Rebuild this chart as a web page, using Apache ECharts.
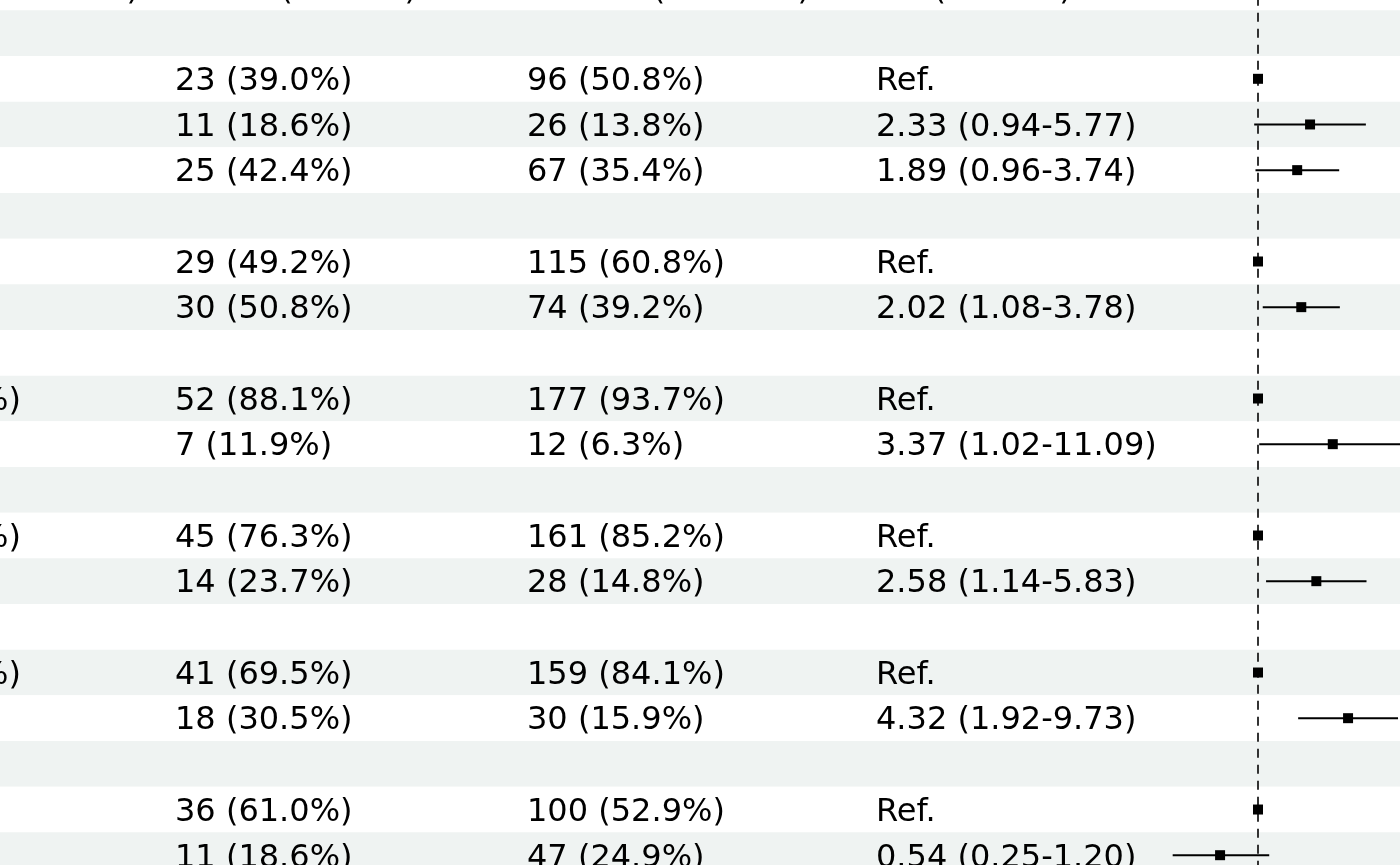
<!DOCTYPE html>
<html><head><meta charset="utf-8">
<script src="https://cdn.jsdelivr.net/npm/echarts/dist/echarts.min.js"></script>
<style>html,body{margin:0;padding:0;background:#fff}#c{width:1400px;height:865px}</style>
</head><body><div id="c"></div>
<script>
// ---- data ----
const headers = ['Subgroup (N = 248)', 'Cases (N = 59)', 'Control (N = 189)', 'OR (95% CI)'];
const groupLabels = ['', '', '', '', '', '', '', '', 'Low (< 50%)', '', '', 'Low (< 50%)', '', '', 'Low (< 50%)', '', '', '', ''];
const casesText = ['', '23 (39.0%)', '11 (18.6%)', '25 (42.4%)', '', '29 (49.2%)', '30 (50.8%)', '', '52 (88.1%)', '7 (11.9%)', '', '45 (76.3%)', '14 (23.7%)', '', '41 (69.5%)', '18 (30.5%)', '', '36 (61.0%)', '11 (18.6%)'];
const controlsText = ['', '96 (50.8%)', '26 (13.8%)', '67 (35.4%)', '', '115 (60.8%)', '74 (39.2%)', '', '177 (93.7%)', '12 (6.3%)', '', '161 (85.2%)', '28 (14.8%)', '', '159 (84.1%)', '30 (15.9%)', '', '100 (52.9%)', '47 (24.9%)'];
const orText = ['', 'Ref.', '2.33 (0.94-5.77)', '1.89 (0.96-3.74)', '', 'Ref.', '2.02 (1.08-3.78)', '', 'Ref.', '3.37 (1.02-11.09)', '', 'Ref.', '2.58 (1.14-5.83)', '', 'Ref.', '4.32 (1.92-9.73)', '', 'Ref.', '0.54 (0.25-1.20)'];
const orValue = [null, 1, 2.33, 1.89, null, 1, 2.02, null, 1, 3.37, null, 1, 2.58, null, 1, 4.32, null, 1, 0.54];
const ciLow  = [null, null, 0.94, 0.96, null, null, 1.08, null, null, 1.02, null, null, 1.14, null, null, 1.92, null, null, 0.25];
const ciHigh = [null, null, 5.77, 3.74, null, null, 3.78, null, null, 11.09, null, null, 5.83, null, null, 9.73, null, null, 1.20];

// ---- layout ----
const ROW_H = 45.67;
const NROWS = orText.length + 1; // header + body
const TOP = 10.3 - ROW_H;
const HEIGHT = ROW_H * NROWS;
const rowCats = ['header'].concat(orText.map((_, i) => 'r' + i));
const FONT = { fontFamily: 'DejaVu Sans', fontSize: 32, color: '#000', opacity: 1, offset: [0, 3] };

const gridDefs = [
  { left: 0, width: 1400 },      // 0 bands
  { left: 0, width: 139 },       // 1 left header
  { left: 0, width: 21 },        // 2 left body
  { left: 175, width: 300 },     // 3 cases
  { left: 527, width: 300 },     // 4 controls
  { left: 876, width: 280 },     // 5 OR text
  { left: 1258 - 141.72, width: 425.16 } // 6 forest (log: 0.1..100)
];
const grid = gridDefs.map(g => ({ left: g.left, width: g.width, top: TOP, height: HEIGHT, outerBoundsMode: 'none', containLabel: false }));
const xAxis = gridDefs.map((g, i) => i === 6
  ? { gridIndex: i, type: 'log', logBase: 10, min: 0.1, max: 100, show: false }
  : { gridIndex: i, type: 'value', min: 0, max: 1, show: false });
const yAxis = gridDefs.map((g, i) => ({
  gridIndex: i, type: 'category', data: rowCats, inverse: true,
  show: i === 0,
  axisLine: { show: false }, axisTick: { show: false }, axisLabel: { show: false },
  splitLine: { show: false },
  splitArea: i === 0 ? { show: true, interval: 0, areaStyle: { color: ['#ffffff', '#eff3f2'] } } : { show: false }
}));

function textSeries(gi, xv, items, pos) {
  return {
    type: 'scatter', xAxisIndex: gi, yAxisIndex: gi, symbolSize: 0, silent: true,
    itemStyle: { opacity: 1, color: '#000' },
    data: items.filter(d => d.t !== '').map(d => ({ value: [xv, d.r], name: d.t })),
    label: Object.assign({ show: true, position: pos, distance: 0, formatter: '{b}' }, FONT)
  };
}
const bodyItems = arr => arr.map((t, i) => ({ t, r: i + 1 }));

const series = [
  textSeries(1, 1, [{ t: headers[0], r: 0 }], 'left'),
  textSeries(2, 1, bodyItems(groupLabels), 'left'),
  textSeries(3, 0, [{ t: headers[1], r: 0 }].concat(bodyItems(casesText)), 'right'),
  textSeries(4, 0, [{ t: headers[2], r: 0 }].concat(bodyItems(controlsText)), 'right'),
  textSeries(5, 0, [{ t: headers[3], r: 0 }].concat(bodyItems(orText)), 'right'),
  {
    type: 'custom', xAxisIndex: 6, yAxisIndex: 6, silent: true,
    data: ciLow.map((lo, i) => lo == null ? null : [lo, ciHigh[i], i + 1]).filter(d => d),
    encode: { x: [0, 1], y: 2 },
    renderItem: (params, api) => {
      const p1 = api.coord([api.value(0), api.value(2)]);
      const p2 = api.coord([api.value(1), api.value(2)]);
      return { type: 'line', shape: { x1: p1[0], y1: p1[1], x2: p2[0], y2: p2[1] }, style: { stroke: '#000', lineWidth: 2 } };
    }
  },
  {
    type: 'scatter', xAxisIndex: 6, yAxisIndex: 6, silent: true, symbol: 'rect', symbolSize: 10,
    itemStyle: { color: '#000', opacity: 1 }, z: 5,
    data: orValue.map((v, i) => v == null ? null : [v, i + 1]).filter(d => d),
    markLine: {
      silent: true, symbol: ['none', 'none'], label: { show: false },
      lineStyle: { color: '#333', width: 2, type: [9, 7], opacity: 1 },
      data: [{ xAxis: 1 }]
    }
  }
];

const chart = echarts.init(document.getElementById('c'), null, { renderer: 'canvas' });
chart.setOption({ animation: false, backgroundColor: '#fff', grid, xAxis, yAxis, series });
</script>
</body></html>
